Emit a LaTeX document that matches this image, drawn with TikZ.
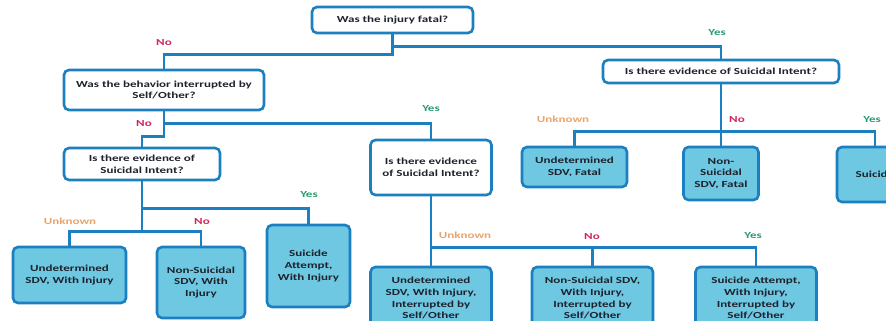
\documentclass[tikz,border=0pt]{standalone}
\usepackage{fontspec}
\setmainfont{Carlito}[FakeStretch=1.4]

\definecolor{treeBlue}{RGB}{27,127,192}
\definecolor{treeFill}{RGB}{110,200,226}
\definecolor{treeText}{RGB}{30,34,44}
\definecolor{ansNo}{RGB}{205,40,90}
\definecolor{ansYes}{RGB}{40,155,110}
\definecolor{ansUnknown}{RGB}{233,164,106}

\def\treeLine{2.6pt}
\def\treeRound{5pt}
\def\treeWidth{886}
\def\treeHeight{321}

\tikzset{
    question/.style = {draw = treeBlue, line width = \treeLine,
        rounded corners = \treeRound, fill = white, align = center,
        text = treeText, inner sep = 0pt,
        font = \bfseries\fontsize{9.3}{11.6}\selectfont},
    outcome/.style = {question, fill = treeFill},
    answer/.style = {inner sep = 0pt, font = \bfseries\fontsize{9.3}{11}\selectfont},
    branch/.style = {draw = treeBlue, line width = \treeLine},
}

\begin{document}
\begin{tikzpicture}[x = 1pt, y = -1pt]
            \useasboundingbox (0,0) rectangle (\treeWidth,\treeHeight);
            \clip (0,0) rectangle (\treeWidth,\treeHeight);
            %% questions
            \node [question, minimum width = 161, minimum height = 26]
            (fatal) at (392.5,20) {Was the injury fatal?};
            \node [question, minimum width = 200, minimum height = 40]
            (interrupted) at (164,90) {Was the behavior interrupted by\\Self/Other?};
            \node [question, minimum width = 236, minimum height = 23]
            (intentfatal) at (721,71.5) {Is there evidence of Suicidal Intent?};
            \node [question, minimum width = 156, minimum height = 32]
            (intentinjury) at (142,164) {Is there evidence of\\Suicidal Intent?};
            \node [question, minimum width = 121, minimum height = 55]
            (intentstopped) at (431,167.5) {Is there evidence\\of Suicidal Intent?};
            %% outcomes, fatal
            \node [outcome, minimum width = 105, minimum height = 40]
            (undfatal) at (574.5,167) {Undetermined\\SDV, Fatal};
            \node [outcome, minimum width = 75, minimum height = 53]
            (nonfatal) at (721,173.5) {Non-\\Suicidal\\SDV, Fatal};
            \node [outcome, minimum width = 76, minimum height = 55]
            (suifatal) at (875,174.5) {Suicide};
            %% outcomes, with injury
            \node [outcome, minimum width = 113, minimum height = 56]
            (undinjury) at (69.5,275) {Undetermined\\SDV, With Injury};
            \node [outcome, minimum width = 88, minimum height = 71]
            (noninjury) at (201,282.5) {Non-Suicidal\\SDV, With\\Injury};
            \node [outcome, minimum width = 83, minimum height = 82]
            (suiinjury) at (308.5,266) {Suicide\\Attempt,\\With Injury};
            %% outcomes, interrupted
            \foreach \name/\x/\txt in {
                undstopped/431/{Undetermined\\SDV, With Injury,\\Interrupted by\\Self/Other},
                nonstopped/592.5/{Non-Suicidal SDV,\\With Injury,\\Interrupted by\\Self/Other},
                suistopped/756/{Suicide Attempt,\\With Injury,\\Interrupted by\\Self/Other}} {
                \node [outcome, minimum width = 121, minimum height = 62,
                text depth = 0pt] (\name) at (\x,298) {\txt};
            }
            %% branches
            \draw [branch] (fatal.south) -- ++(0,20) -| (interrupted.north);
            \draw [branch] (fatal.south) ++(0,12) -| (intentfatal.north);
            \draw [branch] (interrupted.south) -- ++(0,12) -| (intentstopped.north);
            \draw [branch] (interrupted.south) -- ++(0,25) -| (intentinjury.north);
            \draw [branch] (intentfatal.south) -- (nonfatal.north);
            \draw [branch] (intentfatal.south) ++(0,47) -| (undfatal.north);
            \draw [branch] (intentfatal.south) ++(0,47) -| (suifatal.north);
            \draw [branch] (intentinjury.south) -- ++(0,50) -| (undinjury.north);
            \draw [branch] (intentinjury.south) ++(0,50) -| (noninjury.north);
            \draw [branch] (intentinjury.south) ++(0,27) -| (suiinjury.north);
            \draw [branch] (intentstopped.south) -- (undstopped.north);
            \draw [branch] (intentstopped.south) ++(0,51) -| (nonstopped.north);
            \draw [branch] (intentstopped.south) ++(0,51) -| (suistopped.north);
            %% answers
            \node [answer, text = ansNo] (nofatal) at (164,43) {No};
            \node [answer, text = ansYes] (yesfatal) at (717,33) {Yes};
            \node [answer, text = ansNo] (nostop) at (144,124) {No};
            \node [answer, text = ansYes] (yesstop) at (431,109) {Yes};
            \node [answer, text = ansUnknown] (unkinjury) at (70,221) {Unknown};
            \node [answer, text = ansNo] (noinjury) at (202,222) {No};
            \node [answer, text = ansYes] (yesinjury) at (309,195) {Yes};
            \node [answer, text = ansUnknown] (unkfatal) at (563,119) {Unknown};
            \node [answer, text = ansNo] (nointent) at (737,120) {No};
            \node [answer, text = ansYes] (yesintent) at (872,120) {Yes};
            \node [answer, text = ansUnknown] (unkstopped) at (465,235) {Unknown};
            \node [answer, text = ansNo] (nostopped) at (592,237) {No};
            \node [answer, text = ansYes] (yesstopped) at (753,236) {Yes};
\end{tikzpicture}
\end{document}
